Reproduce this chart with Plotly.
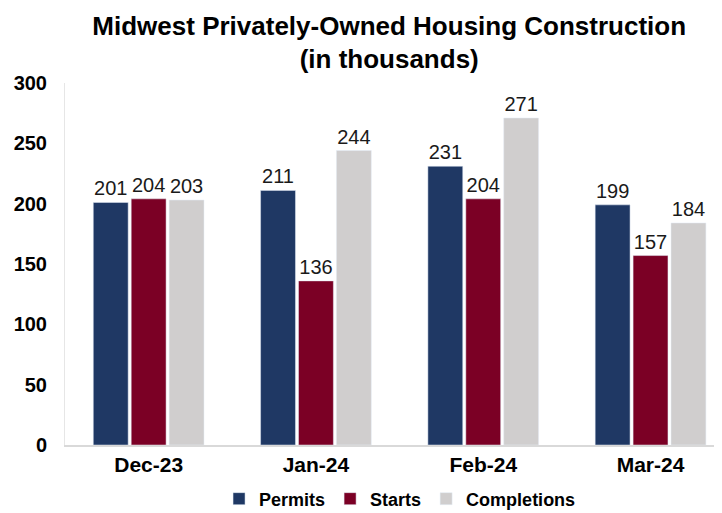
import plotly.graph_objects as go

# Data
months = ['Dec-23', 'Jan-24', 'Feb-24', 'Mar-24']
permits = [201, 211, 231, 199]
starts = [204, 136, 204, 157]
completions = [203, 244, 271, 184]

fig = go.Figure()
for name, vals, color in [('Permits', permits, '#1F3864'),
                          ('Starts', starts, '#7B0025'),
                          ('Completions', completions, '#D0CECE')]:
    fig.add_trace(go.Bar(x=months, y=vals, name='<b>' + name + '</b>', marker_color=color,
                         text=vals, textposition='outside', cliponaxis=False,
                         textfont=dict(size=20, color='#1a1a1a',
                                       family='Liberation Sans, Arial')))

fig.update_layout(
    width=722, height=513,
    title=dict(text='<b>Midwest Privately-Owned Housing Construction<br>(in thousands)</b>',
               x=0.528, xanchor='center', yref='container', y=0.948, yanchor='middle',
               font=dict(size=26, color='black', family='Liberation Sans, Arial')),
    font=dict(family='Liberation Sans, Arial', color='black'),
    plot_bgcolor='white', paper_bgcolor='white',
    margin=dict(l=57, r=0, t=75, b=76),
    barmode='group', bargap=0.32, bargroupgap=0.08,
    showlegend=True,
    legend=dict(orientation='h', x=0.543, xanchor='center', xref='container',
                yref='container', y=0.043, yanchor='middle',
                font=dict(size=18, color='black'), tracegroupgap=0),
)
fig.update_xaxes(range=[-0.5, 3.475], automargin=False, showgrid=False, showline=True,
                 linecolor='#D9D9D9', linewidth=2,
                 ticks='', tickfont=dict(size=21), tickprefix='<b>', ticksuffix='</b>')
fig.update_yaxes(range=[0, 300], dtick=50, automargin=False, showgrid=False, showline=True,
                 linecolor='#E6E6E6', linewidth=1, zeroline=False,
                 ticks='', tickfont=dict(size=20), tickprefix='<b>', ticksuffix='</b>',
                 ticklabelstandoff=13)

fig.write_html('out.html')
